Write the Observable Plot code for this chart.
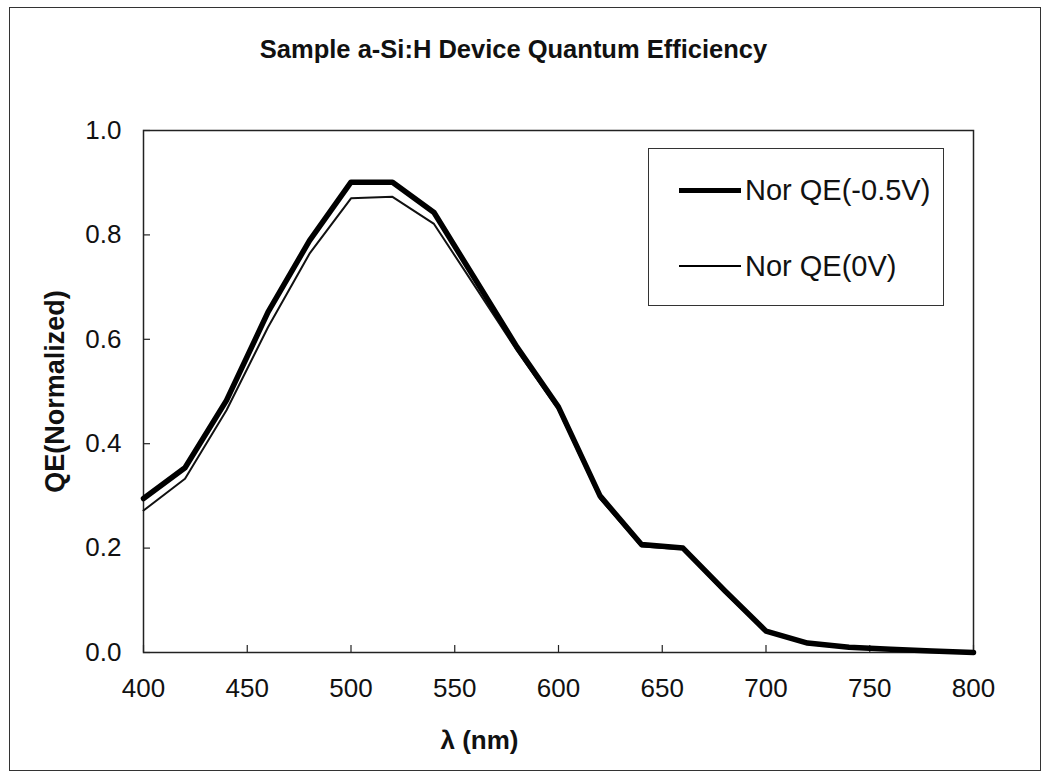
<!DOCTYPE html>
<html>
<head>
<meta charset="utf-8">
<script src="https://cdn.jsdelivr.net/npm/d3@7"></script>
<script src="https://cdn.jsdelivr.net/npm/@observablehq/plot@0.6"></script>
<style>
  html, body { margin: 0; padding: 0; background: #fff; }
  #wrap { position: relative; width: 1049px; height: 779px; font-family: "Liberation Sans", Arial, sans-serif; color: #111; }
  #outer { position: absolute; left: 9px; top: 7px; width: 1032px; height: 764px; border: 1.5px solid #333; box-sizing: border-box; pointer-events: none; }
  #legend { position: absolute; left: 648px; top: 148px; width: 296px; height: 158px; border: 1.5px solid #333; box-sizing: border-box; background: #fff; }
  .item { position: absolute; left: 30px; height: 34px; display: flex; align-items: center; }
  .sw { width: 62px; background: #000; margin-right: 4px; }
  .lt { font-size: 29px; color: #111; white-space: nowrap; }
</style>
</head>
<body>
<div id="wrap">
  <div id="chart"></div>
  <div id="outer"></div>
  <div id="legend"></div>
</div>
<script>
const wavelengths = [400, 420, 440, 460, 480, 500, 520, 540, 560, 580, 600, 620, 640, 660, 680, 700, 720, 740, 760, 780, 800];
const qeMinus05V = [0.295, 0.354, 0.483, 0.652, 0.789, 0.901, 0.901, 0.843, 0.714, 0.585, 0.470, 0.300, 0.207, 0.200, 0.119, 0.041, 0.018, 0.010, 0.006, 0.003, 0.000];
const qe0V = [0.272, 0.333, 0.464, 0.623, 0.764, 0.870, 0.873, 0.821, 0.700, 0.578, 0.465, 0.295, 0.203, 0.198, 0.115, 0.039, 0.016, 0.009, 0.005, 0.002, 0.000];
const seriesNames = ["Nor QE(-0.5V)", "Nor QE(0V)"];
const xTicks = [400, 450, 500, 550, 600, 650, 700, 750, 800];
const yTicks = [0, 0.2, 0.4, 0.6, 0.8, 1.0];
const titleText = "Sample a-Si:H Device Quantum Efficiency";
const xLabel = "λ (nm)";
const yLabel = "QE(Normalized)";

const rows = [];
wavelengths.forEach((w, i) => {
  rows.push({w, v: qeMinus05V[i], s: seriesNames[0]});
  rows.push({w, v: qe0V[i], s: seriesNames[1]});
});

const W = 1049, H = 779;
const mL = 143, mR = 76, mT = 130, mB = 127;
const pw = W - mL - mR, ph = H - mT - mB;

const chart = Plot.plot({
  width: W,
  height: H,
  marginLeft: mL,
  marginRight: mR,
  marginTop: mT,
  marginBottom: mB,
  style: {fontFamily: "'Liberation Sans', Arial, sans-serif", fontSize: "26px", color: "#111", background: "#fff"},
  x: {domain: [400, 800]},
  y: {domain: [0, 1]},
  marks: [
    Plot.axisX({ticks: xTicks, tickSize: 0, tickPadding: 26, label: null, fontSize: 26}),
    Plot.axisY({ticks: yTicks, tickSize: 0, tickPadding: 22, tickFormat: d3.format(".1f"), label: null, fontSize: 26}),
    Plot.tickX(xTicks, {x: d => d, insetTop: ph - 7, stroke: "#222", strokeWidth: 1.2}),
    Plot.tickY(yTicks, {y: d => d, insetRight: pw - 7, stroke: "#222", strokeWidth: 1.2}),
    Plot.frame({stroke: "#222", strokeWidth: 1.5}),
    Plot.line(rows.filter(d => d.s === seriesNames[1]), {x: "w", y: "v", stroke: "#111", strokeWidth: 2}),
    Plot.line(rows.filter(d => d.s === seriesNames[0]), {x: "w", y: "v", stroke: "#000", strokeWidth: 5.5}),
    Plot.text([titleText], {frameAnchor: "top", dx: -45, dy: -91, fontWeight: "bold", fontSize: 25.5, fill: "#111"}),
    Plot.text([xLabel], {frameAnchor: "bottom", dx: -79, dy: 96, fontWeight: "bold", fontSize: 26, fill: "#111"}),
    Plot.text([yLabel], {frameAnchor: "left", textAnchor: "middle", dx: -88, rotate: -90, fontWeight: "bold", fontSize: 27, fill: "#111"})
  ]
});
document.getElementById("chart").appendChild(chart);

const legend = document.getElementById("legend");
const legendY = [24, 100];
const legendW = [5, 2];
seriesNames.forEach((name, i) => {
  const it = document.createElement("div");
  it.className = "item";
  it.style.top = legendY[i] + "px";
  const sw = document.createElement("div");
  sw.className = "sw";
  sw.style.height = legendW[i] + "px";
  const t = document.createElement("span");
  t.className = "lt";
  t.textContent = name;
  it.appendChild(sw);
  it.appendChild(t);
  legend.appendChild(it);
});
</script>
</body>
</html>
